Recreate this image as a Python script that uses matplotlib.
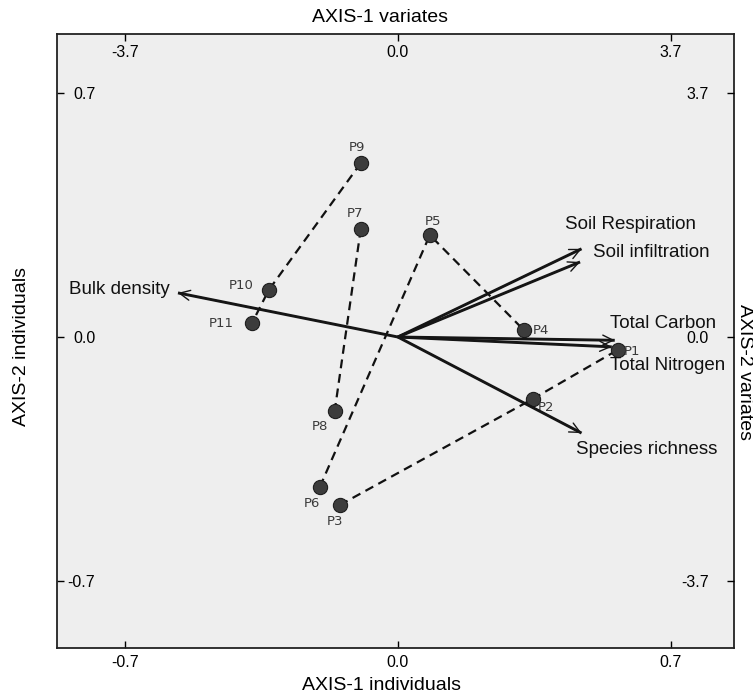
import matplotlib
matplotlib.use('Agg')
import matplotlib.pyplot as plt

plt.rcParams['font.family'] = ['Liberation Sans', 'DejaVu Sans']

# ---------------- data ----------------
sites = ['P1', 'P2', 'P3', 'P4', 'P5', 'P6', 'P7', 'P8', 'P9', 'P10', 'P11']
axis1_ind = [0.564, 0.346, -0.149, 0.323, 0.082, -0.200, -0.095, -0.162, -0.095, -0.331, -0.374]
axis2_ind = [-0.037, -0.178, -0.483, 0.020, 0.293, -0.431, 0.311, -0.213, 0.500, 0.135, 0.040]
groups = [['P9', 'P10', 'P11'], ['P7', 'P8'], ['P6', 'P5', 'P4'], ['P3', 'P2', 'P1']]

variables = ['Bulk density', 'Soil Respiration', 'Soil infiltration',
             'Total Carbon', 'Total Nitrogen', 'Species richness']
axis1_var = [-2.98, 2.49, 2.47, 2.94, 2.90, 2.49]
axis2_var = [0.67, 1.34, 1.14, -0.05, -0.15, -1.46]

ind_ticks = [-0.7, 0.0, 0.7]
var_ticks = [-3.7, 0.0, 3.7]

# ---------------- layout / style ----------------
W, H = 753, 697
fig = plt.figure(figsize=(W / 100, H / 100), dpi=100, facecolor='white')
rect = [57 / W, 1 - 648 / H, (734 - 57) / W, (648 - 34) / H]

ind_xlim = (-0.874, 0.862)
ind_ylim = (-0.894, 0.871)
k = var_ticks[-1] / ind_ticks[-1]

ax = fig.add_axes(rect)
ax.set_facecolor('#eeeeee')
ax.set_xlim(*ind_xlim)
ax.set_ylim(*ind_ylim)
for s in ax.spines.values():
    s.set_linewidth(1.3)
    s.set_color('#222222')

ax.set_xticks(ind_ticks)
ax.set_xticklabels([f'{t:.1f}' for t in ind_ticks])
ax.set_yticks(ind_ticks)
ax.set_yticklabels([f'{t:.1f}' for t in ind_ticks])
ax.tick_params(axis='x', direction='in', length=5, width=1, pad=5, labelsize=11.5)
ax.tick_params(axis='y', direction='in', length=5, width=1, pad=-27.5, labelsize=11.5)

# overlay axes for the variates
axv = fig.add_axes(rect, frameon=False)
axv.patch.set_visible(False)
axv.set_xlim(ind_xlim[0] * k, ind_xlim[1] * k)
axv.set_ylim(ind_ylim[0] * k, ind_ylim[1] * k)
axv.xaxis.tick_top()
axv.yaxis.tick_right()
axv.set_xticks(var_ticks)
axv.set_xticklabels([f'{t:.1f}' for t in var_ticks])
axv.set_yticks(var_ticks)
axv.set_yticklabels([f'{t:.1f}' for t in var_ticks])
axv.tick_params(axis='x', direction='in', length=5, width=1, pad=-18.5, labelsize=11.5)
axv.tick_params(axis='y', direction='in', length=5, width=1, pad=-18, labelsize=11.5)
for lab in axv.get_yticklabels():
    lab.set_horizontalalignment('right')

# dashed group connections
pos = {s: (x, y) for s, x, y in zip(sites, axis1_ind, axis2_ind)}
for g in groups:
    xs = [pos[s][0] for s in g]
    ys = [pos[s][1] for s in g]
    ax.plot(xs, ys, color='#111111', lw=1.6, linestyle=(0, (4, 2.6)), zorder=2)

ax.scatter(axis1_ind, axis2_ind, s=105, color='#3c3c3c', edgecolor='#1e1e1e',
           linewidth=0.8, zorder=4)

site_offsets = {  # pixels: (right, down)
    'P1': (14, 2), 'P2': (13, 9), 'P3': (-5, 16), 'P4': (17, 0), 'P5': (3, -14),
    'P6': (-8, 17), 'P7': (-6, -15), 'P8': (-15, 15), 'P9': (-4, -16),
    'P10': (-28, -5), 'P11': (-31, 0)}
for s, x, y in zip(sites, axis1_ind, axis2_ind):
    dx, dy = site_offsets[s]
    ax.annotate(s, (x, y), xytext=(dx, -dy), textcoords='offset pixels',
                ha='center', va='center', fontsize=9.5, color='#3a3a3a',
                family='DejaVu Sans', zorder=5)

# variate arrows
for v, x, y in zip(variables, axis1_var, axis2_var):
    axv.plot([0, x], [0, y], color='#151515', lw=2.1, solid_capstyle='butt', zorder=3)
    axv.annotate('', xy=(x, y), xytext=(0, 0),
                 arrowprops=dict(arrowstyle='->,head_length=0.75,head_width=0.36',
                                 lw=1.0, color='#151515', shrinkA=0, shrinkB=0),
                 zorder=3)

var_offsets = {  # pixels (right, down), alignment
    'Bulk density': (-8, -3, 'right'),
    'Soil Respiration': (-17, -24, 'left'),
    'Soil infiltration': (13, -9, 'left'),
    'Total Carbon': (-5, -17, 'left'),
    'Total Nitrogen': (-2, 19, 'left'),
    'Species richness': (-6, 16, 'left')}
for v, x, y in zip(variables, axis1_var, axis2_var):
    dx, dy, ha = var_offsets[v]
    axv.annotate(v, (x, y), xytext=(dx, -dy), textcoords='offset pixels',
                 ha=ha, va='center', fontsize=13.5, color='#111111')

# axis titles
fig.text(380 / W, 1 - 17 / H, 'AXIS-1 variates', ha='center', va='center', fontsize=14)
fig.text(382 / W, 1 - 686 / H, 'AXIS-1 individuals', ha='center', va='center', fontsize=14)
fig.text(22 / W, 1 - 347 / H, 'AXIS-2 individuals', ha='center', va='center',
         rotation=90, fontsize=14)
fig.text(744 / W, 1 - 372 / H, 'AXIS-2 variates', ha='center', va='center',
         rotation=270, fontsize=14)

fig.savefig('out.png', dpi=100, facecolor='white')
